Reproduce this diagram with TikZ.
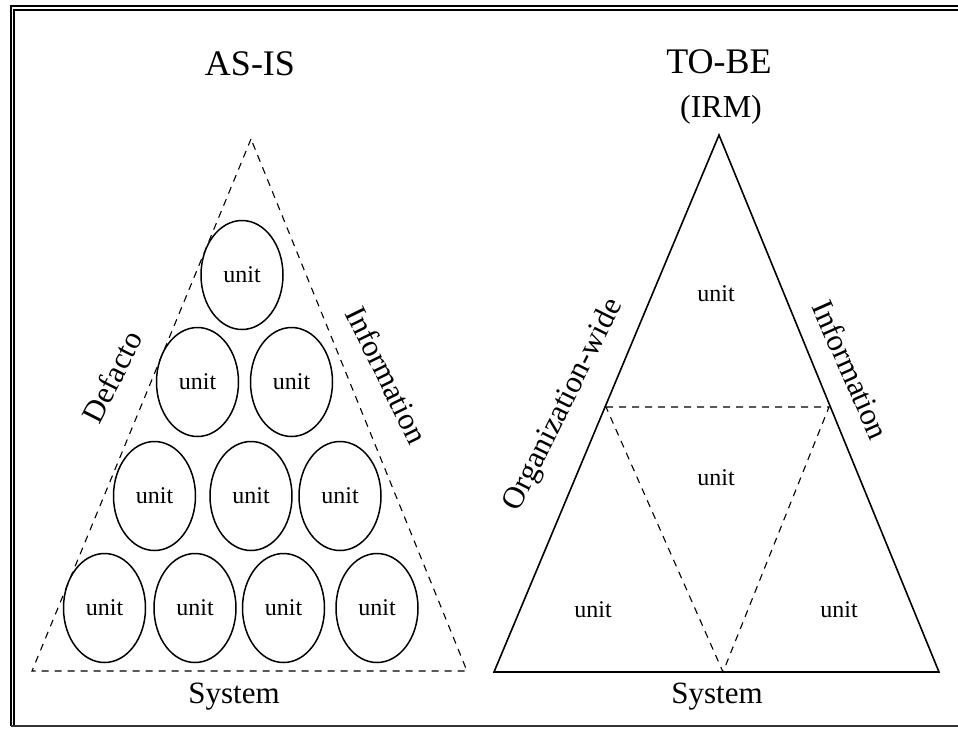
\documentclass[tikz,border=0pt]{standalone}
\usepackage{fontspec}
\setmainfont{Liberation Serif}
\usetikzlibrary{shapes.geometric}
\begin{document}
\begin{tikzpicture}[x=1pt,y=-1pt,
  frameline/.style={line width=1.4pt,black},
  dashline/.style={line width=1.1pt,black,dash pattern=on 7pt off 6pt},
  solidline/.style={line width=1.6pt,line join=miter},
  unitell/.style={ellipse,draw,line width=1.5pt,minimum width=82pt,minimum height=109pt,inner sep=0pt,font=\fontsize{24}{28}\selectfont},
  unitlbl/.style={font=\fontsize{24}{28}\selectfont,inner sep=0pt},
  title/.style={font=\fontsize{36}{40}\selectfont,inner sep=0pt},
  sidelbl/.style={font=\fontsize{31}{34}\selectfont,inner sep=0pt}]
\useasboundingbox (0,0) rectangle (958,729);
% frame
\draw[frameline] (958,6) -- (11,6) -- (11,726);
\draw[frameline] (958,10) -- (14,10) -- (14,726);
\draw[line width=1.2pt,black!80] (11,726) -- (958,726);
% titles
\node[title] (asis) at (250,64) {AS-IS};
\node[title] (tobe) at (719,62) {TO-BE};
\node[font=\fontsize{32}{36}\selectfont,inner sep=0pt] (irm) at (721,110) {(IRM)};
% left dashed triangle
\coordinate (LA) at (251,139);
\coordinate (LB) at (32,671);
\coordinate (LC) at (467,671);
\draw[dashline] (LA) -- (LB) -- (LC) -- cycle;
% ellipses
\node[unitell] (u1) at (242,275) {unit};
\node[unitell] (u21) at (197.5,382) {unit};
\node[unitell] (u22) at (291.5,382) {unit};
\node[unitell] (u31) at (154.5,496) {unit};
\node[unitell] (u32) at (251,496) {unit};
\node[unitell] (u33) at (340,496) {unit};
\node[unitell] (u41) at (104.5,608) {unit};
\node[unitell] (u42) at (195,608) {unit};
\node[unitell] (u43) at (283.5,608) {unit};
\node[unitell] (u44) at (377,608) {unit};
% left labels
\node[sidelbl,rotate=63] (defacto) at (112,377) {Defacto};
\node[sidelbl,rotate=-64] (info1) at (387,375) {Information};
\node[sidelbl,anchor=base] (sys1) at (234,703) {System};
% right triangle
\coordinate (RA) at (719,135);
\coordinate (RB) at (494,672);
\coordinate (RC) at (939,672);
\coordinate (RL) at (606,407);
\coordinate (RR) at (829,407);
\coordinate (RM) at (723,672);
\draw[solidline] (RA) -- (RB) -- (RC) -- cycle;
\draw[dashline] (RL) -- (RR) -- (RM) -- cycle;
\node[unitlbl] (t1) at (716,294) {unit};
\node[unitlbl] (t2) at (716,478) {unit};
\node[unitlbl] (t3) at (593,610) {unit};
\node[unitlbl] (t4) at (839,610) {unit};
\node[sidelbl,rotate=63.5] (orgw) at (564,405) {Organization-wide};
\node[sidelbl,rotate=-66] (info2) at (851,370) {Information};
\node[sidelbl,anchor=base] (sys2) at (717,703) {System};
\end{tikzpicture}
\end{document}
